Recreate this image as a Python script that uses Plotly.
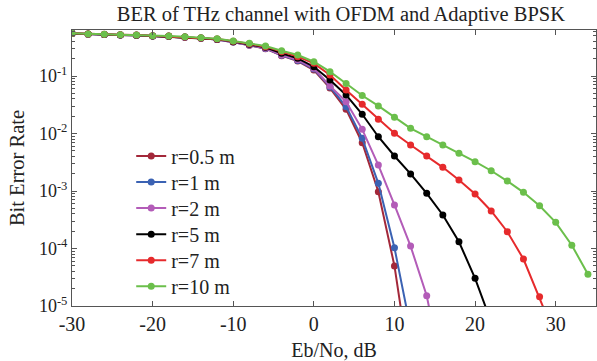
import plotly.graph_objects as go

# ---- data ----
ebno = list(range(-30, 35, 2))  # dB

ber_r05 = [0.550, 0.533, 0.526, 0.516, 0.509, 0.494, 0.489, 0.472, 0.452, 0.432, 0.391,
           0.343, 0.299, 0.226, 0.182, 0.127, 0.0617, 0.0263, 0.00692, 0.000973, 4.97e-5, 6.9e-7]
ber_r1 = [0.550, 0.533, 0.526, 0.516, 0.509, 0.494, 0.489, 0.472, 0.452, 0.432, 0.391,
          0.345, 0.302, 0.229, 0.186, 0.132, 0.0646, 0.0293, 0.00824, 0.00136, 0.000103, 4.07e-6]
ber_r2 = [0.550, 0.533, 0.526, 0.516, 0.509, 0.494, 0.489, 0.472, 0.452, 0.432, 0.391,
          0.347, 0.305, 0.232, 0.191, 0.136, 0.0670, 0.0357, 0.0118, 0.00283, 0.000571, 0.000110,
          1.51e-5, 6.3e-7]
ber_r5 = [0.551, 0.535, 0.527, 0.519, 0.512, 0.497, 0.491, 0.475, 0.456, 0.437, 0.396,
          0.355, 0.316, 0.248, 0.203, 0.145, 0.0851, 0.0468, 0.0216, 0.00879, 0.00406, 0.00198,
          0.000912, 0.000383, 0.000131, 3.03e-5, 5.25e-6]
ber_r7 = [0.552, 0.536, 0.530, 0.521, 0.514, 0.499, 0.494, 0.479, 0.460, 0.442, 0.402,
          0.363, 0.324, 0.265, 0.217, 0.166, 0.104, 0.0571, 0.0322, 0.0177, 0.0101, 0.00631,
          0.00406, 0.00258, 0.00155, 0.000887, 0.000449, 0.000196, 6.56e-5, 1.45e-5, 2.82e-6]
ber_r10 = [0.553, 0.537, 0.531, 0.522, 0.516, 0.501, 0.497, 0.482, 0.463, 0.446, 0.406,
           0.371, 0.333, 0.275, 0.232, 0.177, 0.119, 0.0741, 0.0457, 0.0302, 0.0191, 0.0123,
           0.00879, 0.00631, 0.00453, 0.00324, 0.00225, 0.00149, 0.000948, 0.000555, 0.000285,
           0.000114, 3.56e-5]

series_names = ["r=0.5 m", "r=1 m", "r=2 m", "r=5 m", "r=7 m", "r=10 m"]
series_values = [ber_r05, ber_r1, ber_r2, ber_r5, ber_r7, ber_r10]
series_colors = ["#a3283a", "#3b62b3", "#b35cb8", "#000000", "#e62a2c", "#6bbf4b"]

x_ticks = [-30, -20, -10, 0, 10, 20, 30]
x_tick_text = ["-30", "-20", "-10", "0", "10", "20", "30"]
y_ticks = [1e-5, 1e-4, 1e-3, 1e-2, 1e-1]
y_tick_text = ["10<sup>-5</sup>", "10<sup>-4</sup>", "10<sup>-3</sup>", "10<sup>-2</sup>", "10<sup>-1</sup>"]

FONT = "Liberation Serif, Times New Roman, serif"
AX = "#555555"
TXT = "#222222"

W, H = 597, 361
M_L, M_R, M_T, M_B = 72, 1, 30, 55
plot_h = H - M_T - M_B

fig = go.Figure()
legend_layouts = {}
for i, (name, vals, col) in enumerate(zip(series_names, series_values, series_colors)):
    lg = "legend" if i == 0 else f"legend{i + 1}"
    fig.add_trace(go.Scatter(
        x=ebno[:len(vals)], y=vals, name=name, mode="lines+markers",
        line=dict(color=col, width=2),
        marker=dict(color=col, size=7),
        legend=lg,
    ))
    y_px = 156 + 26.06 * i  # row centre in pixels (one entry per legend)
    legend_layouts[lg] = dict(
        x=0.113, y=(H - M_B - y_px) / plot_h, xanchor="left", yanchor="middle",
        bgcolor="rgba(0,0,0,0)", borderwidth=0,
        font=dict(family=FONT, size=20, color=TXT),
    )

fig.update_layout(
    width=W, height=H,
    margin=dict(l=M_L, r=M_R, t=M_T, b=M_B),
    paper_bgcolor="white", plot_bgcolor="white",
    font=dict(family=FONT, size=20, color=TXT),
    title=dict(text="BER of THz channel with OFDM and Adaptive BPSK",
               x=0.571, xanchor="center", y=0.962, yanchor="middle",
               font=dict(family=FONT, size=20.5, color=TXT)),
    showlegend=True,
    **legend_layouts,
)

fig.update_xaxes(
    range=[-30, 35], tickmode="array", tickvals=x_ticks, ticktext=x_tick_text,
    ticks="inside", ticklen=5, tickcolor=AX, tickwidth=1,
    showline=True, linecolor=AX, linewidth=1, mirror="ticks",
    showgrid=False, zeroline=False,
    tickfont=dict(family=FONT, size=20, color=TXT),
    title=dict(text="Eb/No, dB", standoff=12, font=dict(family=FONT, size=20, color=TXT)),
)
fig.update_yaxes(
    type="log", range=[-5, -0.2], tickmode="array", tickvals=y_ticks, ticktext=y_tick_text,
    ticks="inside", ticklen=5, tickcolor=AX, tickwidth=1,
    minor=dict(ticks="inside", ticklen=3, tickcolor=AX, dtick="D1", showgrid=False),
    showline=True, linecolor=AX, linewidth=1, mirror="allticks",
    showgrid=False, zeroline=False,
    tickfont=dict(family=FONT, size=18, color=TXT),
    title=dict(text="Bit Error Rate", standoff=8, font=dict(family=FONT, size=20.5, color=TXT)),
)

fig.write_html("out.html")
